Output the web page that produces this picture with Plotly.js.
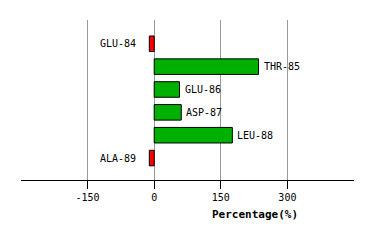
<!DOCTYPE html>
<html><head><meta charset="utf-8">
<script src="https://cdn.plot.ly/plotly-3.0.1.min.js"></script>
<style>html,body{margin:0;padding:0;background:#fff}</style>
</head><body><div id="chart" style="width:374px;height:241px"></div>
<script>
const residues = ["GLU-84","THR-85","GLU-86","ASP-87","LEU-88","ALA-89"];
const percentages = [-11, 235, 57, 61, 176, -11];
const tickValues = [-150, 0, 150, 300];
const tickLabels = ["-150", "0", "150", "300"];

const colors = percentages.map(v => v < 0 ? "#ff0000" : "#00b000");

const trace = {
  type: "bar",
  orientation: "h",
  y: residues,
  x: percentages,
  marker: {color: colors, line: {color: "#000", width: 1}},
  hoverinfo: "none"
};

const labelFont = {family: "DejaVu Sans Mono", size: 10, color: "#000"};
const labelAnns = residues.map((r, i) => ({
  text: r,
  xref: "x", yref: "y",
  x: percentages[i], y: r,
  xanchor: percentages[i] < 0 ? "right" : "left",
  yanchor: "middle",
  xshift: percentages[i] < 0 ? -11 : 3,
  showarrow: false,
  font: labelFont
}));

const layout = {
  width: 374, height: 241,
  margin: {l: 21, r: 20, t: 20, b: 61},
  paper_bgcolor: "#fff", plot_bgcolor: "#fff",
  showlegend: false,
  bargap: 0.32,
  xaxis: {
    range: [-300, 450],
    tickvals: tickValues, ticktext: tickLabels,
    showgrid: true, gridcolor: "#999999", gridwidth: 1,
    zeroline: false,
    showline: true, linecolor: "#000", linewidth: 1,
    ticks: "outside", ticklen: 8, tickcolor: "#000", tickwidth: 1,
    tickfont: {family: "DejaVu Sans Mono", size: 10, color: "#000"},
    fixedrange: true
  },
  yaxis: {
    type: "category",
    range: [5.96, -1.04],
    showticklabels: false, showgrid: false, zeroline: false,
    showline: false, ticks: "",
    fixedrange: true
  },
  annotations: labelAnns.concat([{
    text: "<b>Percentage(%)</b>",
    xref: "paper", yref: "paper",
    x: (254.5 - 21) / 333, y: -(214 - 180) / 160,
    xanchor: "center", yanchor: "middle",
    showarrow: false,
    font: {family: "DejaVu Sans Mono", size: 11, color: "#000"}
  }])
};

Plotly.newPlot("chart", [trace], layout, {displayModeBar: false, staticPlot: true});
</script></body></html>
